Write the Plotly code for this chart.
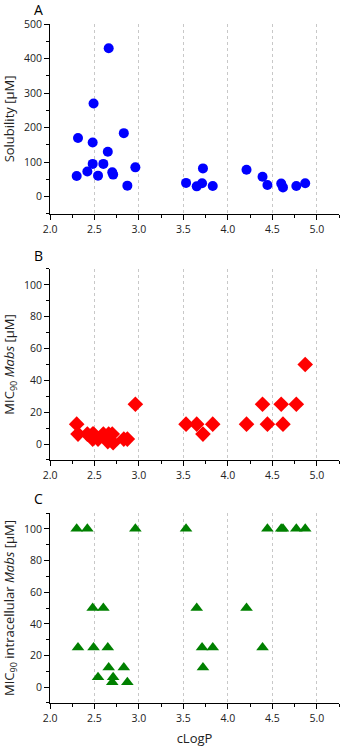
import plotly.graph_objects as go
from plotly.subplots import make_subplots

# Panel A: solubility
sol_x = [2.30, 2.315, 2.42, 2.48, 2.48, 2.49, 2.54, 2.60, 2.65, 2.66, 2.70, 2.71, 2.83, 2.87, 2.96,
         3.53, 3.65, 3.71, 3.72, 3.83, 4.21, 4.39, 4.445, 4.60, 4.62, 4.77, 4.87]
sol_y = [60, 170, 73, 95, 157, 270, 61, 95, 130, 430, 71, 64, 184, 32, 85,
         40, 30, 39, 82, 31, 78, 58, 34, 38, 27, 31, 39]

# Panel B: MIC90 Mabs
mic_x = [2.30, 2.315, 2.42, 2.48, 2.48, 2.49, 2.54, 2.60, 2.65, 2.66, 2.70, 2.71, 2.83, 2.87, 2.96,
         3.53, 3.65, 3.72, 3.83, 4.21, 4.39, 4.445, 4.60, 4.62, 4.77, 4.87]
mic_y = [12.5, 6.25, 6.25, 6.25, 3.125, 6.25, 3.125, 6.25, 1.56, 6.25, 6.25, 0.78, 3.125, 3.125, 25,
         12.5, 12.5, 6.25, 12.5, 12.5, 25, 12.5, 25, 12.5, 25, 50]

# Panel C: MIC90 intracellular Mabs
icm_x = [2.30, 2.315, 2.42, 2.48, 2.49, 2.54, 2.60, 2.65, 2.66, 2.70, 2.71, 2.83, 2.87, 2.96,
         3.53, 3.65, 3.71, 3.72, 3.83, 4.21, 4.39, 4.445, 4.60, 4.62, 4.77, 4.87]
icm_y = [100, 25, 100, 50, 25, 6.25, 50, 25, 12.5, 3.125, 6.25, 12.5, 3.125, 100,
         100, 50, 25, 12.5, 25, 50, 25, 100, 100, 100, 100, 100]

x_ticks = [2.0, 2.5, 3.0, 3.5, 4.0, 4.5, 5.0]
x_tick_labels = ["2.0", "2.5", "3.0", "3.5", "4.0", "4.5", "5.0"]

FONT = "Open Sans"
fig = make_subplots(rows=3, cols=1)

fig.add_trace(go.Scatter(x=sol_x, y=sol_y, mode="markers",
                         marker=dict(symbol="circle", size=10, color="#0000FF")), row=1, col=1)
fig.add_trace(go.Scatter(x=mic_x, y=mic_y, mode="markers",
                         marker=dict(symbol="diamond", size=12, color="#FF0000")), row=2, col=1)
fig.add_trace(go.Scatter(x=icm_x, y=icm_y, mode="markers",
                         marker=dict(symbol="triangle-up", size=11, color="#008000")), row=3, col=1)

domains = [[0.7202, 1.0], [0.3579, 0.6392], [0.0, 0.2798]]
yranges = [[-50, 500], [-10, 110], [-10, 110]]
ydticks = [100, 20, 20]
ytitles = ["Solubility [µM]", "MIC<sub>90</sub> <i>Mabs</i> [µM]",
           "MIC<sub>90</sub> intracellular <i>Mabs</i> [µM]"]

for i in range(3):
    fig.update_xaxes(row=i + 1, col=1, range=[2.0, 5.25], tickvals=x_ticks, ticktext=x_tick_labels,
                     showline=True, linecolor="black", linewidth=1, ticks="outside", ticklen=5,
                     tickcolor="black", showgrid=True, gridcolor="#c8c8c8", griddash="dot",
                     gridwidth=1, zeroline=False, automargin=False,
                     tickfont=dict(size=10.5, color="#222"),
                     minor=dict(dtick=0.25, tick0=2.0, ticks="outside", ticklen=3,
                                tickcolor="black", showgrid=False))
    fig.update_yaxes(row=i + 1, col=1, range=yranges[i], domain=domains[i], dtick=ydticks[i], tick0=0,
                     showline=True, linecolor="black", linewidth=1, ticks="outside", ticklen=5,
                     tickcolor="black", showgrid=False, zeroline=False, automargin=False,
                     tickfont=dict(size=10.5, color="#222"),
                     title=dict(text=ytitles[i], font=dict(size=13, color="#222"), standoff=6),
                     minor=dict(dtick=ydticks[i] / 2, tick0=0, ticks="outside", ticklen=3,
                                tickcolor="black", showgrid=False))

fig.update_xaxes(row=3, col=1, title=dict(text="cLogP", font=dict(size=13, color="#222"), standoff=10))

for letter, ypx in [("A", 9), ("B", 255), ("C", 498)]:
    fig.add_annotation(text=letter, xref="paper", yref="paper",
                       x=(38 - 50) / 289, y=(703 - ypx) / 679,
                       xanchor="center", yanchor="middle", showarrow=False,
                       font=dict(size=14, color="black"))

fig.update_layout(width=342, height=750, margin=dict(l=50, r=3, t=24, b=47),
                  plot_bgcolor="white", paper_bgcolor="white", showlegend=False,
                  font=dict(family=FONT, color="#222"))

fig.write_html("out.html", config={"displayModeBar": False},
               post_script="document.body.style.margin='0';document.body.style.overflow='hidden';")
